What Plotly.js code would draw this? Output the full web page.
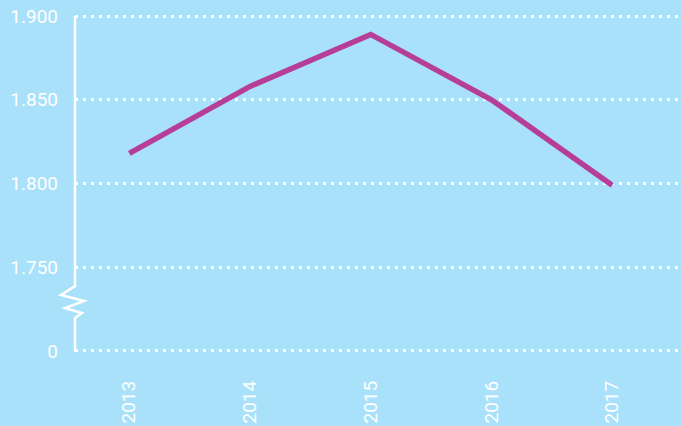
<!DOCTYPE html>
<html>
<head>
<meta charset="utf-8">
<script src="https://cdn.plot.ly/plotly-3.0.1.min.js"></script>
<style>html,body{margin:0;padding:0;background:#aae1fa;}#chart{width:681px;height:426px;}</style>
</head>
<body>
<div id="chart"></div>
<script>
// Data
var years = [2013, 2014, 2015, 2016, 2017];
var values = [1818, 1858, 1889, 1850, 1799];
var yTickVals = [1700, 1750, 1800, 1850, 1900]; // 1700 position stands for the broken-axis "0"
var yTickText = ["0", "1.750", "1.800", "1.850", "1.900"];
var xTickText = ["2013", "2014", "2015", "2016", "2017"];

var W = 681, H = 426, ML = 75, MR = 0, MT = 14, MB = 73;
var PW = W - ML - MR, PH = H - MT - MB;
function px(dx) { return dx / PW; }
function py(yPix) { return (H - MB - yPix) / PH; }

// Broken y-axis line (decoration)
var brk = [[0, 16], [0, 286], [-14, 295], [9, 301], [-10, 308], [7, 313], [0, 318], [0, 352]];
var path = brk.map(function (p, i) { return (i ? 'L' : 'M') + px(p[0]) + ',' + py(p[1]); }).join(' ');

var trace = {
  x: years, y: values, type: 'scatter', mode: 'lines',
  line: { color: '#b63d98', width: 5.5 }, hoverinfo: 'skip'
};

var layout = {
  width: W, height: H,
  margin: { l: ML, r: MR, t: MT, b: MB, pad: 0 },
  paper_bgcolor: '#aae1fa', plot_bgcolor: '#aae1fa',
  showlegend: false,
  font: { family: 'Roboto, sans-serif', color: '#ffffff', size: 19 },
  xaxis: {
    range: [2012.55, 2017.57], tickvals: years, ticktext: xTickText,
    tickangle: -90, showgrid: false, zeroline: false, showline: false,
    ticks: '', ticklabelstandoff: 23, fixedrange: true
  },
  yaxis: {
    range: [1698.8, 1901.2], tickvals: yTickVals, ticktext: yTickText,
    showgrid: true, gridcolor: '#ffffff', gridwidth: 3, griddash: '3px,5px',
    zeroline: false, showline: false, ticks: '', ticklabelstandoff: 16, fixedrange: true
  },
  shapes: [{
    type: 'path', xref: 'paper', yref: 'paper', path: path,
    line: { color: '#ffffff', width: 2.5 }, layer: 'above'
  }]
};

Plotly.newPlot('chart', [trace], layout, { staticPlot: true, displayModeBar: false });
</script>
</body>
</html>
